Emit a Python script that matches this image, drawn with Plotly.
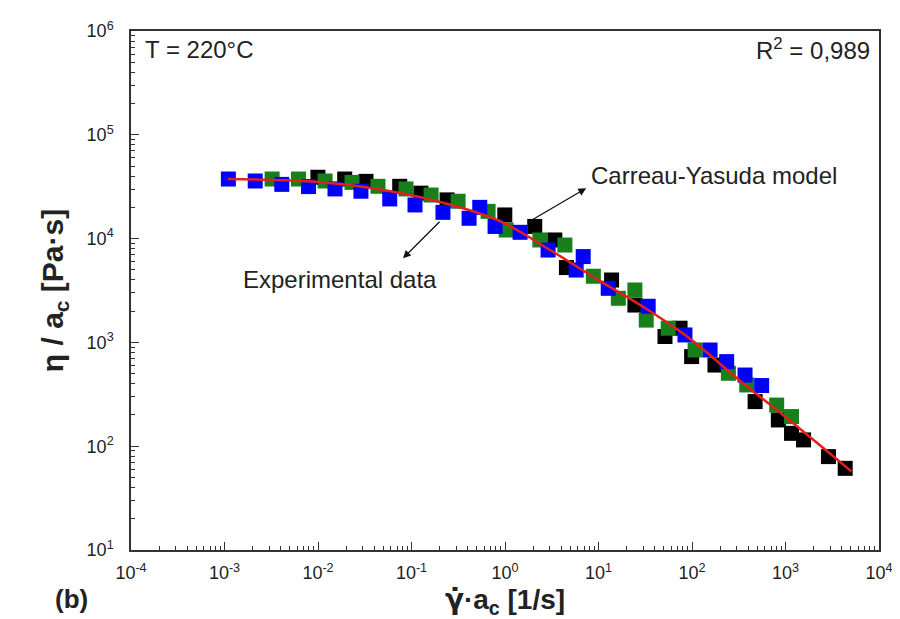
import plotly.graph_objects as go

# shear rate * a_c [1/s] and viscosity / a_c [Pa.s]
blue_x = [1.10e-3, 2.13e-3, 4.10e-3, 7.92e-3, 1.52e-2, 2.88e-2, 5.85e-2, 0.109, 0.217,
          0.413, 0.537, 0.783, 1.45, 2.89, 5.77, 6.86, 12.7, 34.0, 84.1, 156, 235, 369, 556]
blue_y = [37500, 35900, 33300, 31700, 30100, 28600, 24100, 21100, 17900,
          15700, 20000, 13100, 11500, 7760, 4980, 6710, 3320, 2230, 1180, 845, 653, 485, 384]

green_x = [3.23e-3, 6.19e-3, 1.19e-2, 2.31e-2, 4.38e-2, 8.73e-2, 0.162, 0.315, 0.659, 1.03,
           2.36, 4.37, 8.81, 16.3, 24.5, 32.4, 55.7, 108, 245, 385, 805, 1160]
green_y = [37500, 37500, 35900, 34800, 31900, 30100, 26300, 22900, 18300, 12100,
           9700, 8670, 4340, 2660, 3200, 1640, 1370, 845, 504, 389, 249, 193]

black_x = [9.98e-3, 1.93e-2, 3.26e-2, 7.48e-2, 0.126, 0.240, 0.995, 2.08, 3.41, 4.54, 13.8,
           24.5, 51.4, 74.5, 99.1, 176, 473, 839, 1160, 1560, 2880, 4350]
black_y = [39000, 37500, 35600, 31900, 27400, 23600, 16900, 13100, 9700, 5260, 3990,
           2290, 1140, 1370, 730, 605, 269, 179, 133, 115, 79.4, 61.2]

# Carreau-Yasuda fit
model_x = [1.09e-3, 1.0e-2, 3.42e-2, 0.192, 0.843, 3.16, 10.0, 34.0, 100, 316, 1000, 5070]
model_y = [37500, 35100, 31000, 22800, 15000, 7590, 3980, 2050, 1050, 437, 191, 57.2]

x_ticks = [1e-4, 1e-3, 1e-2, 1e-1, 1, 10, 100, 1000, 10000]
x_labels = ["10<sup>-4</sup>", "10<sup>-3</sup>", "10<sup>-2</sup>", "10<sup>-1</sup>", "10<sup>0</sup>",
            "10<sup>1</sup>", "10<sup>2</sup>", "10<sup>3</sup>", "10<sup>4</sup>"]
y_ticks = [10, 100, 1000, 10000, 100000, 1000000]
y_labels = ["10<sup>1</sup>", "10<sup>2</sup>", "10<sup>3</sup>", "10<sup>4</sup>", "10<sup>5</sup>", "10<sup>6</sup>"]

font = "Liberation Sans, Arial, sans-serif"

fig = go.Figure()
for xs, ys, col in [(black_x, black_y, "black"), (green_x, green_y, "#17801a"), (blue_x, blue_y, "#0000ff")]:
    fig.add_trace(go.Scatter(x=xs, y=ys, mode="markers",
                             marker=dict(symbol="square", size=15, color=col, line=dict(width=0))))
fig.add_trace(go.Scatter(x=model_x, y=model_y, mode="lines", line=dict(color="#e3201b", width=2.5, shape="spline")))

def minor_vals(lo, hi):
    return [m * 10 ** e for e in range(lo, hi) for m in range(2, 10)]

axis_common = dict(type="log", showgrid=False, zeroline=False, showline=True, linecolor="#333",
                   linewidth=1.5, mirror=True, ticks="inside", ticklen=8, tickcolor="#333",
                   tickmode="array", tickfont=dict(family=font, size=18, color="#222"))

fig.update_xaxes(range=[-4, 4], tickvals=x_ticks, ticktext=x_labels, ticklabelstandoff=6,
                 minor=dict(tickvals=minor_vals(-4, 4), ticks="inside", ticklen=4, tickcolor="#333"),
                 title=dict(text="<span style='font-family:DejaVu Sans'>\u03b3\u0307</span>\u00b7a<sub>c</sub> [1/s]",
                            standoff=6, font=dict(family=font, size=28, color="#222", weight="bold")),
                 **axis_common)
fig.update_yaxes(range=[1, 6], tickvals=y_ticks, ticktext=y_labels, ticklabelstandoff=12,
                 minor=dict(tickvals=minor_vals(1, 6), ticks="inside", ticklen=4, tickcolor="#333"),
                 title=dict(text="\u03b7 / a<sub>c</sub> [Pa\u00b7s]", standoff=14,
                            font=dict(family=font, size=30, color="#222", weight="bold")),
                 **axis_common)

txt = dict(family=font, size=24, color="#222")
fig.add_annotation(text="T = 220\u00b0C", xref="paper", yref="paper", x=0.016, y=0.965,
                   xanchor="left", yanchor="middle", showarrow=False, font=txt)
fig.add_annotation(text="R<sup>2</sup> = 0,989", xref="paper", yref="paper", x=0.99, y=0.965,
                   xanchor="right", yanchor="middle", showarrow=False, font=txt)
fig.add_annotation(text="Carreau-Yasuda model", x=0.90, y=4.61, xanchor="left", yanchor="middle",
                   showarrow=False, font=txt)
fig.add_annotation(text="Experimental data", x=-2.82, y=3.608, xanchor="left", yanchor="middle",
                   showarrow=False, font=txt)
# arrows point from the data towards the labels
fig.add_annotation(text="", x=0.868, y=4.485, ax=0.226, ay=4.147, axref="x", ayref="y",
                   showarrow=True, arrowhead=2, arrowsize=1.2, arrowwidth=1.3, arrowcolor="#111")
fig.add_annotation(text="", x=-1.091, y=3.81, ax=-0.684, ay=4.177, axref="x", ayref="y",
                   showarrow=True, arrowhead=2, arrowsize=1.2, arrowwidth=1.3, arrowcolor="#111")
fig.add_annotation(text="<b>(b)</b>", xref="paper", yref="paper", x=-0.079, y=-0.095,
                   xanchor="center", yanchor="middle", showarrow=False,
                   font=dict(family=font, size=26, color="#222"))

fig.update_layout(width=900, height=619, margin=dict(l=123, r=29, t=23, b=77),
                  plot_bgcolor="white", paper_bgcolor="white", showlegend=False)

fig.write_html("out.html")
